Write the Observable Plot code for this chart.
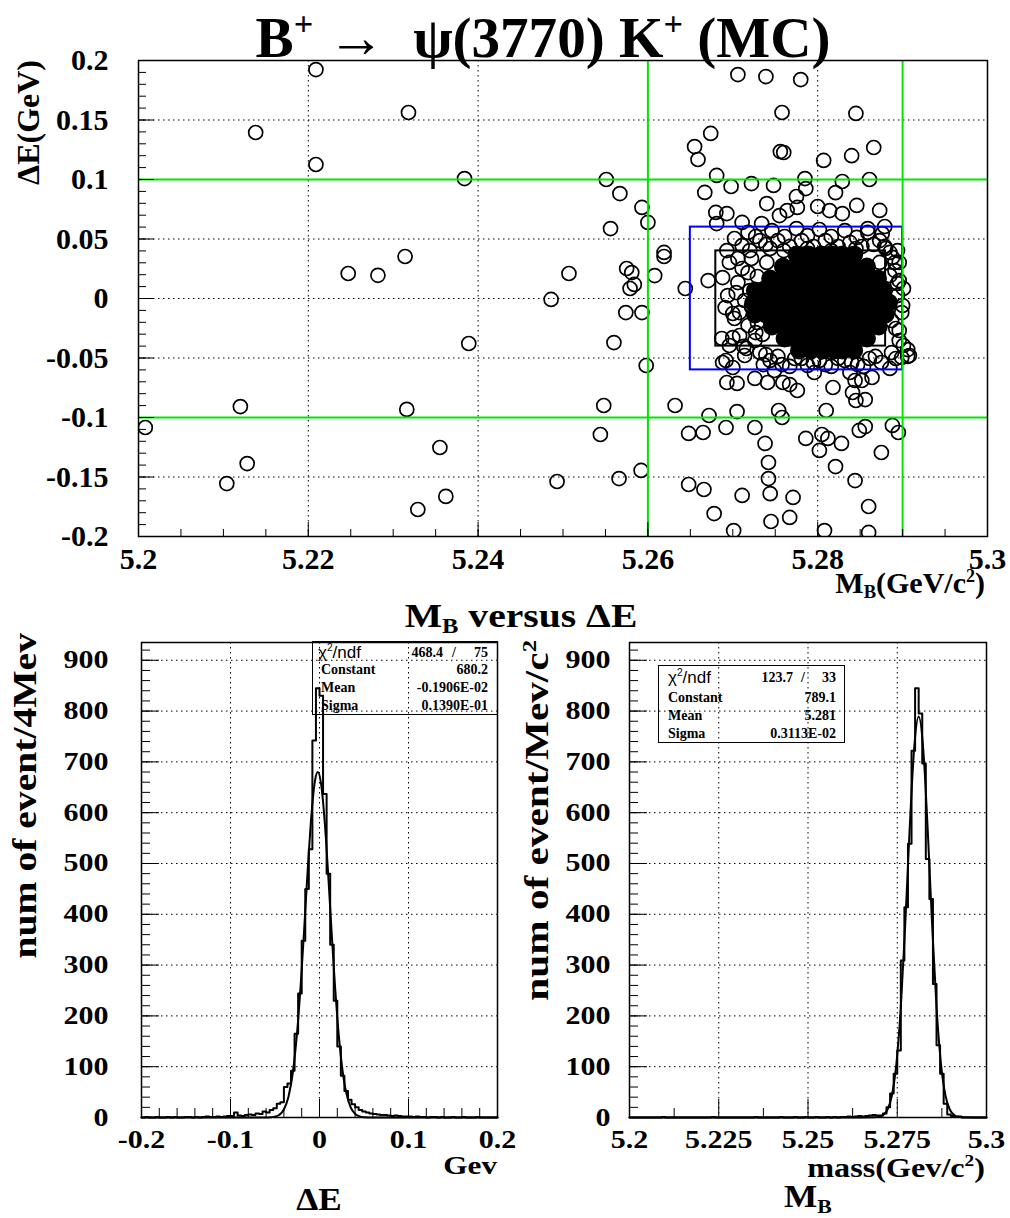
<!DOCTYPE html>
<html><head><meta charset="utf-8">
<script src="https://cdn.jsdelivr.net/npm/d3@7"></script>
<script src="https://cdn.jsdelivr.net/npm/@observablehq/plot@0.6"></script>
<style>
html,body{margin:0;padding:0;background:#fff;}
#wrap{position:relative;width:1010px;height:1218px;overflow:hidden;background:#fff;}
#wrap svg{position:absolute;overflow:visible;background:transparent;}
.sup{font-size:.6em;position:relative;top:-.62em;}
.sub{font-size:.62em;position:relative;top:.3em;}
.box{position:absolute;border:1.5px solid #000;box-sizing:border-box;}
</style></head>
<body><div id="wrap"></div>
<script>
// ---------------- DATA ----------------
// scatter: M_B (GeV/c^2) vs deltaE (GeV), open circles
const outliersFar = [[5.2209,0.1924],[5.2138,0.1395],[5.2318,0.1563],[5.2209,0.1126],[5.2384,0.1008],[5.2247,0.0210],[5.2282,0.0195],[5.2314,0.0353],[5.2486,-0.0008],[5.2389,-0.0378],[5.2120,-0.0908],[5.2316,-0.0932],[5.2008,-0.1084],[5.2128,-0.1387],[5.2104,-0.1555],[5.2355,-0.1252],[5.2329,-0.1773],[5.2362,-0.1663],[5.2493,-0.1538]];
const outliersMid = [[5.2551,0.1000],[5.2567,0.0882],[5.2593,0.0765],[5.2556,0.0588],[5.2600,0.0639],[5.2619,0.0387],[5.2619,0.0353],[5.2507,0.0210],[5.2575,0.0252],[5.2581,0.0218],[5.2584,0.0118],[5.2579,0.0084],[5.2608,0.0193],[5.2574,-0.0118],[5.2593,-0.0118],[5.2560,-0.0370],[5.2598,-0.0563],[5.2644,0.0084],[5.2548,-0.0899],[5.2544,-0.1143],[5.2566,-0.1513],[5.2592,-0.1445],[5.2632,-0.0899],[5.2648,-0.1134],[5.2665,-0.1126],[5.2672,-0.0983],[5.2648,-0.1563],[5.2666,-0.1605],[5.2678,-0.1807],[5.2711,-0.1655],[5.2692,-0.1084],[5.2701,-0.1950]];
const outliersUpper = [[5.2655,0.1277],[5.2674,0.1387],[5.2659,0.1168],[5.2667,0.0891],[5.2681,0.1034],[5.2698,0.0941],[5.2706,0.1882],[5.2739,0.1865],[5.2780,0.1840],[5.2758,0.1563],[5.2756,0.1235],[5.2760,0.1227],[5.2722,0.0966],[5.2748,0.0950],[5.2807,0.1160],[5.2845,0.1555],[5.2866,0.1269],[5.2840,0.1200],[5.2821,0.0890],[5.2829,0.0983],[5.2861,0.1000],[5.2785,0.1008],[5.2786,0.0924],[5.2775,0.0857],[5.2800,0.0773],[5.2680,0.0723],[5.2873,0.0740],[5.2879,0.0605],[5.2879,0.0437],[5.2873,0.0303]];
const outliersLower = [[5.2726,-0.0672],[5.2739,-0.0471],[5.2692,-0.0521],[5.2687,-0.0336],[5.2705,-0.0950],[5.2726,-0.1084],[5.2738,-0.1218],[5.2742,-0.1378],[5.2742,-0.1513],[5.2744,-0.1640],[5.2745,-0.1874],[5.2767,-0.1840],[5.2771,-0.1672],[5.2754,-0.0941],[5.2758,-0.1000],[5.2767,-0.0723],[5.2786,-0.1176],[5.2805,-0.1143],[5.2810,-0.0941],[5.2802,-0.1277],[5.2812,-0.1176],[5.2828,-0.1218],[5.2821,-0.1412],[5.2808,-0.1950],[5.2860,-0.1748],[5.2860,-0.1966],[5.2844,-0.1530],[5.2849,-0.1109],[5.2845,-0.0857],[5.2844,-0.0689],[5.2856,-0.0849],[5.2856,-0.1076],[5.2875,-0.1294],[5.2888,-0.1067],[5.2895,-0.1126],[5.2906,-0.0429],[5.2906,-0.0487]];
const aroundBox = [[5.2693,0.0714],[5.2681,0.0630],[5.2711,0.0639],[5.2734,0.0630],[5.2755,0.0697],[5.2764,0.0739],[5.2776,0.0765],[5.2740,0.0798],[5.2814,0.0739],[5.2829,0.0714],[5.2846,0.0782],[5.2859,0.0588],[5.2876,0.0546],[5.2888,0.0345],[5.2891,0.0235],[5.2894,0.0126],[5.2900,-0.0059],[5.2908,-0.0479],[5.2899,-0.0496],[5.2671,0.0151],[5.2688,0.0176],[5.2691,-0.0076],[5.2700,-0.0126],[5.2700,-0.0328],[5.2716,-0.0420],[5.2688,-0.0538],[5.2700,-0.0580],[5.2693,-0.0706],[5.2705,-0.0714],[5.2741,-0.0706],[5.2759,-0.0706],[5.2776,-0.0773],[5.2818,-0.0748],[5.2841,-0.0790],[5.2852,-0.0689],[5.2864,-0.0664]];
const clusterRing = [[5.2702,0.0504],[5.2718,0.0555],[5.2732,0.0487],[5.2746,0.0571],[5.2761,0.0521],[5.2775,0.0588],[5.2788,0.0529],[5.2802,0.0580],[5.2816,0.0521],[5.2832,0.0571],[5.2846,0.0513],[5.2859,0.0555],[5.2873,0.0487],[5.2720,0.0403],[5.2744,0.0420],[5.2885,0.0387],[5.2693,0.0403],[5.2696,0.0303],[5.2711,0.0252],[5.2722,0.0336],[5.2706,0.0134],[5.2720,0.0067],[5.2714,-0.0017],[5.2729,0.0185],[5.2694,0.0025],[5.2732,-0.0017],[5.2702,-0.0168],[5.2718,-0.0227],[5.2708,-0.0311],[5.2726,-0.0353],[5.2696,-0.0395],[5.2732,-0.0454],[5.2714,-0.0479],[5.2744,-0.0521],[5.2758,-0.0555],[5.2773,-0.0504],[5.2788,-0.0563],[5.2802,-0.0521],[5.2816,-0.0571],[5.2832,-0.0521],[5.2847,-0.0555],[5.2861,-0.0504],[5.2875,-0.0538],[5.2887,-0.0454],[5.2749,-0.0605],[5.2796,-0.0622],[5.2838,-0.0622],[5.2885,-0.0588],[5.2891,0.0303],[5.2896,0.0151],[5.2894,0.0025],[5.2899,-0.0118],[5.2892,-0.0252],[5.2896,-0.0353],[5.2885,0.0193],[5.2887,-0.0185]];
const clusterEdge = [[5.2711,0.0445],[5.2727,0.0521],[5.2739,0.0454],[5.2753,0.0487],[5.2767,0.0437],[5.2781,0.0487],[5.2795,0.0437],[5.2809,0.0487],[5.2824,0.0437],[5.2838,0.0471],[5.2852,0.0437],[5.2866,0.0454],[5.2880,0.0420],[5.2894,0.0403],[5.2706,0.0336],[5.2718,0.0218],[5.2704,0.0050],[5.2722,-0.0067],[5.2708,-0.0118],[5.2729,-0.0202],[5.2713,-0.0403],[5.2727,-0.0286],[5.2736,-0.0555],[5.2753,-0.0487],[5.2767,-0.0571],[5.2781,-0.0504],[5.2809,-0.0555],[5.2824,-0.0504],[5.2854,-0.0571],[5.2868,-0.0487],[5.2892,-0.0504],[5.2896,0.0303],[5.2901,0.0084],[5.2896,-0.0269],[5.2901,-0.0395],[5.2760,0.0403],[5.2788,0.0420],[5.2816,0.0403],[5.2845,0.0420],[5.2740,0.0303],[5.2735,-0.0302],[5.2795,-0.0538],[5.2840,-0.0538]];
// saturated core of the cluster (overlapping circles render solid black)
const clusterCore = [
[5.2775,0.0370],[5.2789,0.0370],[5.2804,0.0370],[5.2818,0.0370],[5.2829,0.0370],[5.2843,0.0370],
[5.2759,0.0269],[5.2773,0.0269],[5.2787,0.0269],[5.2801,0.0269],[5.2815,0.0269],[5.2829,0.0269],[5.2844,0.0269],[5.2858,0.0269],
[5.2744,0.0168],[5.2758,0.0168],[5.2772,0.0168],[5.2786,0.0168],[5.2800,0.0168],[5.2814,0.0168],[5.2828,0.0168],[5.2842,0.0168],[5.2856,0.0168],[5.2871,0.0168],
[5.2726,0.0067],[5.2736,0.0067],[5.2751,0.0067],[5.2765,0.0067],[5.2779,0.0067],[5.2793,0.0067],[5.2807,0.0067],[5.2821,0.0067],[5.2835,0.0067],[5.2849,0.0067],[5.2864,0.0067],[5.2878,0.0067],
[5.2724,-0.0034],[5.2734,-0.0034],[5.2748,-0.0034],[5.2762,-0.0034],[5.2776,-0.0034],[5.2791,-0.0034],[5.2805,-0.0034],[5.2819,-0.0034],[5.2833,-0.0034],[5.2847,-0.0034],[5.2861,-0.0034],[5.2875,-0.0034],[5.2884,-0.0034],
[5.2726,-0.0134],[5.2739,-0.0134],[5.2753,-0.0134],[5.2767,-0.0134],[5.2781,-0.0134],[5.2795,-0.0134],[5.2809,-0.0134],[5.2824,-0.0134],[5.2838,-0.0134],[5.2852,-0.0134],[5.2866,-0.0134],[5.2880,-0.0134],
[5.2746,-0.0235],[5.2760,-0.0235],[5.2774,-0.0235],[5.2788,-0.0235],[5.2802,-0.0235],[5.2816,-0.0235],[5.2831,-0.0235],[5.2845,-0.0235],[5.2859,-0.0235],[5.2872,-0.0235],
[5.2761,-0.0336],[5.2775,-0.0336],[5.2789,-0.0336],[5.2804,-0.0336],[5.2818,-0.0336],[5.2832,-0.0336],[5.2846,-0.0336],[5.2858,-0.0336],
[5.2778,-0.0437],[5.2792,-0.0437],[5.2806,-0.0437],[5.2820,-0.0437],[5.2829,-0.0437],[5.2843,-0.0437]];

// selection lines and boxes
const cutLinesMB = [5.26, 5.29];
const cutLinesDE = [-0.1, 0.1];
const signalBoxMB = [5.265, 5.29];
const signalBoxDE = [-0.06, 0.06];
const innerBoxMB = [5.268, 5.288];
const innerBoxDE = [-0.04, 0.04];

// deltaE histogram: 100 bins of 4 MeV from -0.2 to 0.2 GeV
const dEStart = -0.2, dEWidth = 0.004;
const dECounts = [0,1,0,0,1,0,0,1,0,1,0,0,1,1,0,1,0,1,2,1,1,2,1,2,3,
  3,10,4,3,5,6,5,8,7,12,10,15,18,27,30,60,67,92,165,244,348,450,528,742,845,
  830,637,480,340,230,140,82,52,35,26,20,15,12,10,8,7,6,5,5,4,3,4,3,2,2,
  2,1,2,1,1,0,1,1,0,1,0,0,1,0,0,1,0,0,0,1,0,0,0,0,0];
// gaussian fit curve (Constant 680.2, Mean -0.0019, Sigma 0.0139)
const dEFitX = [-0.2,-0.07,-0.06,-0.055,-0.05,-0.045,-0.04,-0.035,-0.03,-0.025,-0.02,-0.0175,-0.015,-0.0125,-0.01,-0.0075,-0.005,-0.0019,0.002,0.006,0.01,0.0125,0.015,0.0175,0.02,0.025,0.03,0.035,0.04,0.045,0.05,0.06,0.2];
const dEFitY = [0,0,0.1,0.5,1.7,5.5,15.9,39.9,88.1,170.9,291.4,362.4,436.3,508.6,574.0,627.2,663.5,680.2,654.0,578.8,471.5,397.7,324.9,256.8,196.6,104.6,48.9,20.0,7.2,2.3,0.6,0,0];

// M_B histogram: 100 bins of 1 MeV from 5.2 to 5.3 GeV
const mBStart = 5.2, mBWidth = 0.001;
const mBCounts = [0,0,0,0,0,0,0,0,0,1, 0,0,0,0,0,0,0,0,0,0, 0,0,0,1,0,0,0,0,0,0, 0,0,0,0,0,1,0,0,0,0,
  0,0,1,0,0,0,1,0,0,1, 0,0,1,0,0,1,0,1,0,1, 1,2,1,2,3,2,3,4,5,4,
  4,8,20,47,86,132,309,414,539,722, 845,795,697,509,430,263,142,86,27,6, 3,1,2,0,0,0,0,0,0,0];
// gaussian fit (Constant 789.1, Mean 5.281, Sigma 0.003113)
const mBFitX = [5.2,5.265,5.2685,5.26975,5.271,5.27225,5.2735,5.27475,5.276,5.27725,5.2785,5.27975,5.281,5.28225,5.2835,5.28475,5.286,5.28725,5.2885,5.28975,5.291,5.29225,5.2935,5.297,5.3];
const mBFitY = [0,0,0.25,1.2,4.5,15.2,43.3,105.1,217.2,381.9,571.5,727.9,789.1,727.9,571.5,381.9,217.2,105.1,43.3,15.2,4.5,1.2,0.25,0,0];

// ticks
const topXTicks = [5.2, 5.22, 5.24, 5.26, 5.28, 5.3];
const topYTicks = [-0.2,-0.15,-0.1,-0.05,0,0.05,0.1,0.15,0.2];
const topGridX = [5.22, 5.24, 5.26, 5.28];
const topGridY = [-0.15,-0.1,-0.05,0,0.05,0.1,0.15];
const countTicks = [0,100,200,300,400,500,600,700,800,900];
const countGrid = [100,200,300,400,500,600,700,800,900];
const dETicks = [-0.2,-0.1,0,0.1,0.2];
const dEGridX = [-0.1,0,0.1];
const mBTicks = [5.2,5.225,5.25,5.275,5.3];
const mBHalfTicks = [5.2125,5.2375,5.2625,5.2875];
const mBGridX = [5.225,5.25,5.275];

// ---------------- DRAWING ----------------
const SERIF = '"Liberation Serif","Times New Roman",Times,serif';
const SANS = '"Liberation Sans",Arial,Helvetica,sans-serif';
const wrap = document.getElementById("wrap");
const GREEN = "#00e600";
const dotted = {stroke: "#000", strokeOpacity: 1, strokeWidth: 1, strokeDasharray: "1.5 3.5"};
const fmt = d => String(d);

function yTicksIn(vals, len) { return Plot.axisY(vals, {anchor: "left", tickSize: len, dx: len, fill: "none", stroke: "#000", strokeWidth: 1, label: null}); }
function xTicksIn(vals, len) { return Plot.axisX(vals, {anchor: "bottom", tickSize: len, dy: -len, fill: "none", stroke: "#000", strokeWidth: 1, label: null}); }
function yLabels(vals, pad, size) { return Plot.axisY(vals, {anchor: "left", tickSize: 0, tickPadding: pad, tickFormat: fmt, fontSize: size, fontWeight: "bold", fontFamily: SERIF, fill: "#000", label: null}); }
function xLabels(vals, pad, size) { return Plot.axisX(vals, {anchor: "bottom", tickSize: 0, tickPadding: pad, tickFormat: fmt, fontSize: size, fontWeight: "bold", fontFamily: SERIF, fill: "#000", label: null}); }
function place(svg, left, top) { svg.style.left = left + "px"; svg.style.top = top + "px"; wrap.appendChild(svg); }
// widen the tick labels (the bottom pads render their fonts horizontally stretched)
function stretchTickLabels(svg, s) {
  svg.querySelectorAll('g[aria-label*="tick label"] text').forEach(t => {
    const len = t.getComputedTextLength();
    if (len > 0) { t.setAttribute("textLength", (len * s).toFixed(1)); t.setAttribute("lengthAdjust", "spacingAndGlyphs"); }
  });
}

// ---- top: scatter ----
const openPts = [].concat(outliersFar, outliersMid, outliersUpper, outliersLower, aroundBox, clusterRing, clusterEdge);
const scatter = Plot.plot({
  width: 1010, height: 600,
  marginLeft: 138, marginRight: 23, marginTop: 60, marginBottom: 64,
  x: {domain: [5.2, 5.3]}, y: {domain: [-0.2, 0.2]},
  style: {fontFamily: SERIF, background: "transparent", overflow: "visible"},
  marks: [
    Plot.gridX(topGridX, dotted),
    Plot.gridY(topGridY, dotted),
    Plot.dot(openPts, {x: d => d[0], y: d => d[1], r: 7, fill: "none", stroke: "#000", strokeWidth: 1.7, clip: true}),
    Plot.dot(clusterCore, {x: d => d[0], y: d => d[1], r: 8, fill: "#000", stroke: "#000", strokeWidth: 2, clip: true}),
    Plot.rect([0], {x1: innerBoxMB[0], x2: innerBoxMB[1], y1: innerBoxDE[0], y2: innerBoxDE[1], fill: "none", stroke: "#000", strokeWidth: 2}),
    Plot.rect([0], {x1: signalBoxMB[0], x2: signalBoxMB[1], y1: signalBoxDE[0], y2: signalBoxDE[1], fill: "none", stroke: "#0000ff", strokeWidth: 2}),
    Plot.ruleX(cutLinesMB, {stroke: GREEN, strokeWidth: 2}),
    Plot.ruleY(cutLinesDE, {stroke: GREEN, strokeWidth: 2}),
    Plot.frame({stroke: "#000", strokeWidth: 1.5}),
    yTicksIn(d3.range(-20, 21).map(i => i / 100), 8),
    yTicksIn(topYTicks, 16),
    xTicksIn(d3.range(0, 21).map(i => 5.2 + i * 0.005), 7),
    xTicksIn(topXTicks, 14),
    yLabels(topYTicks, 30, 30),
    xLabels(topXTicks, 11, 30)
  ]
});
place(scatter, 0, 0);

// ---- bottom left: deltaE ----
function steps(start, width, counts) {
  const pts = counts.map((c, i) => [start + i * width, c]);
  pts.push([start + counts.length * width, counts[counts.length - 1]]);
  return pts;
}
const dESteps = steps(dEStart, dEWidth, dECounts);
const dEPlot = Plot.plot({
  width: 505, height: 580,
  marginLeft: 141, marginRight: 8, marginTop: 42, marginBottom: 63,
  x: {domain: [-0.2, 0.2]}, y: {domain: [0, 935]},
  style: {fontFamily: SERIF, background: "transparent", overflow: "visible"},
  marks: [
    Plot.gridX(dEGridX, dotted),
    Plot.gridY(countGrid, dotted),
    Plot.line(dESteps, {x: d => d[0], y: d => d[1], curve: "step-after", stroke: "#000", strokeWidth: 2}),
    Plot.line(dEFitX, {x: dEFitX, y: dEFitY, curve: "monotone-x", stroke: "#000", strokeWidth: 2}),
    Plot.frame({stroke: "#000", strokeWidth: 1.5}),
    yTicksIn(d3.range(0, 935, 20), 9),
    yTicksIn(countTicks, 18),
    xTicksIn(d3.range(0, 21).map(i => -0.2 + i * 0.02), 9),
    xTicksIn(dETicks, 18),
    yLabels(countTicks, 33, 25),
    xLabels(dETicks, 13, 25)
  ]
});
place(dEPlot, 0, 600);
stretchTickLabels(dEPlot, 1.2);

// ---- bottom right: M_B ----
const mBSteps = steps(mBStart, mBWidth, mBCounts);
const mBPlot = Plot.plot({
  width: 505, height: 580,
  marginLeft: 124, marginRight: 24, marginTop: 42, marginBottom: 63,
  x: {domain: [5.2, 5.3]}, y: {domain: [0, 935]},
  style: {fontFamily: SERIF, background: "transparent", overflow: "visible"},
  marks: [
    Plot.gridX(mBGridX, dotted),
    Plot.gridY(countGrid, dotted),
    Plot.line(mBSteps, {x: d => d[0], y: d => d[1], curve: "step-after", stroke: "#000", strokeWidth: 2}),
    Plot.line(mBFitX, {x: mBFitX, y: mBFitY, curve: "monotone-x", stroke: "#000", strokeWidth: 2}),
    Plot.frame({stroke: "#000", strokeWidth: 1.5}),
    yTicksIn(d3.range(0, 935, 20), 9),
    yTicksIn(countTicks, 18),
    xTicksIn(mBHalfTicks, 9),
    xTicksIn(mBTicks, 18),
    yLabels(countTicks, 19, 25),
    xLabels(mBTicks, 13, 25)
  ]
});
place(mBPlot, 505, 600);
stretchTickLabels(mBPlot, 1.2);

// ---- texts ----
function put(html, o) {
  const d = document.createElement("div");
  d.innerHTML = html;
  const F = o.size, fam = o.family || SERIF;
  Object.assign(d.style, {position: "absolute", whiteSpace: "nowrap", lineHeight: "1", fontSize: F + "px",
    fontFamily: fam, fontWeight: o.weight || "bold", color: "#000"});
  const sx = o.sx || 1, sy = o.sy || 1;
  const base = (fam === SANS ? 0.847 : 0.838) * F;
  if (o.rotate) {
    d.style.left = (o.x - base) + "px";
    d.style.top = o.y + "px";
    d.style.transformOrigin = "0 0";
    d.style.transform = `rotate(-90deg) scaleX(${sx}) translateX(-100%)`;
  } else {
    const p = o.anchor === "end" ? 100 : o.anchor === "middle" ? 50 : 0;
    d.style.left = o.x + "px";
    d.style.top = (o.y - base) + "px";
    d.style.transformOrigin = `0 ${base}px`;
    d.style.transform = `scale(${sx},${sy}) translateX(${-p}%)`;
  }
  wrap.appendChild(d);
}
function box(l, t, w, h) {
  const d = document.createElement("div");
  d.className = "box";
  Object.assign(d.style, {left: l + "px", top: t + "px", width: w + "px", height: h + "px"});
  wrap.appendChild(d);
}

put('B<span class="sup">+</span> &#8594;&nbsp; &#968;(3770) K<span class="sup">+</span> (MC)', {x: 543, y: 57, size: 48, sx: 1.19, sy: 1.2, anchor: "middle"});
put('&#916;E(GeV)', {x: 39, y: 60, size: 32, rotate: true});
put('M<span class="sub">B</span>(GeV/c<span class="sup">2</span>)', {x: 985, y: 593, size: 30, anchor: "end"});
put('M<span class="sub">B</span> versus &#916;E', {x: 521, y: 628, size: 33, sx: 1.2, anchor: "middle"});

put('num of event/4Mev', {x: 37, y: 633, size: 33, sx: 1.2, rotate: true});
put('Gev', {x: 497, y: 1175, size: 26, sx: 1.2, anchor: "end"});
put('&#916;E', {x: 319, y: 1210, size: 32, sx: 1.1, anchor: "middle"});

put('num of event/Mev/c<span class="sup">2</span>', {x: 549, y: 640, size: 33, sx: 1.25, rotate: true});
put('mass(Gev/c<span class="sup">2</span>)', {x: 985, y: 1177, size: 28, sx: 1.15, anchor: "end"});
put('M<span class="sub">B</span>', {x: 808, y: 1207, size: 32, sx: 1.1, anchor: "middle"});

// stat boxes
box(312, 641, 186, 74);
put('&#967;<span class="sup">2</span>/ndf', {x: 318, y: 658, size: 17, family: SANS, weight: "normal"});
put('468.4', {x: 443, y: 658, size: 14, anchor: "end"});
put('/', {x: 454, y: 658, size: 14, anchor: "middle"});
put('75', {x: 488, y: 658, size: 14, anchor: "end"});
put('Constant', {x: 321, y: 675, size: 14});
put('680.2', {x: 488, y: 675, size: 14, anchor: "end"});
put('Mean', {x: 321, y: 693, size: 14});
put('-0.1906E-02', {x: 488, y: 693, size: 14, anchor: "end"});
put('Sigma', {x: 321, y: 711, size: 14});
put('0.1390E-01', {x: 488, y: 711, size: 14, anchor: "end"});

box(658, 665, 187, 78);
put('&#967;<span class="sup">2</span>/ndf', {x: 668, y: 683, size: 17, family: SANS, weight: "normal"});
put('123.7', {x: 793, y: 683, size: 14, anchor: "end"});
put('/', {x: 803, y: 683, size: 14, anchor: "middle"});
put('33', {x: 836, y: 683, size: 14, anchor: "end"});
put('Constant', {x: 668, y: 703, size: 14});
put('789.1', {x: 836, y: 703, size: 14, anchor: "end"});
put('Mean', {x: 668, y: 721, size: 14});
put('5.281', {x: 836, y: 721, size: 14, anchor: "end"});
put('Sigma', {x: 668, y: 739, size: 14});
put('0.3113E-02', {x: 836, y: 739, size: 14, anchor: "end"});
</script>
</body></html>
